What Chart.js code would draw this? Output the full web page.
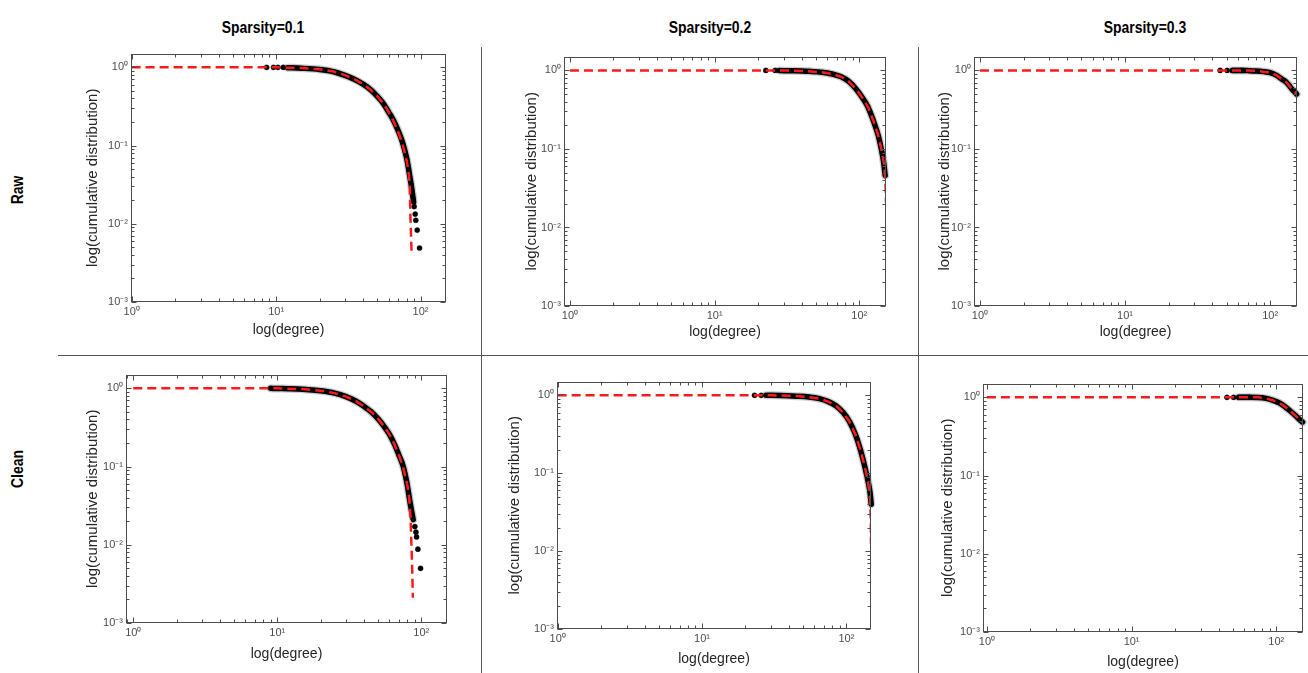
<!DOCTYPE html>
<html>
<head>
<meta charset="utf-8">
<script src="https://cdn.jsdelivr.net/npm/chart.js@4.4.1/dist/chart.umd.min.js"></script>
<style>
  html, body { margin: 0; padding: 0; background: #fff; }
  body { width: 1308px; height: 673px; position: relative; overflow: hidden; }
  canvas { position: absolute; }
  .hdr, .row {
    position: absolute;
    font-family: 'Liberation Sans', sans-serif;
    font-weight: bold; font-size: 16px; color: #000; white-space: nowrap;
  }
  .hdr { transform: translate(-50%, -50%) scaleX(0.87); }
  .row { transform: translate(-50%, -50%) rotate(-90deg) scaleX(0.87); }
  .vl { position: absolute; width: 1px; background: #555; }
  .hl { position: absolute; height: 1px; background: #555; }
</style>
</head>
<body>
<script>
// titres
const colTitles = ['Sparsity=0.1', 'Sparsity=0.2', 'Sparsity=0.3'];
const rowTitles = ['Raw', 'Clean'];
const xTitle = 'log(degree)';
const yTitle = 'log(cumulative distribution)';

// ticks (log)
const xTickValues = [1, 10, 100];
const xTickLabels = ['10⁰', '10¹', '10²'];
const yTickValues = [0.001, 0.01, 0.1, 1];
const yTickLabels = ['10⁻³', '10⁻²', '10⁻¹', '10⁰'];

// [degree, cumulative distribution]
const raw01Curve = [[12, 0.99], [15, 0.975], [20, 0.94], [25, 0.88], [30, 0.79], [35, 0.70], [40, 0.61], [45, 0.52], [50, 0.43], [55, 0.35], [60, 0.27], [65, 0.21], [70, 0.155], [75, 0.11], [80, 0.07], [83, 0.048], [86, 0.032], [88, 0.024], [89.5, 0.019]];
const raw01Dots = [[8.6, 1], [9.6, 1], [10.3, 1], [11.2, 1], [90.3, 0.0166], [91.8, 0.0133], [92.7, 0.0111], [94.8, 0.0083], [98.4, 0.0049]];
const raw01Fit = [[1, 1], [10, 1], [15, 0.98], [20, 0.945], [25, 0.885], [30, 0.795], [35, 0.705], [40, 0.61], [45, 0.52], [50, 0.43], [55, 0.35], [60, 0.27], [65, 0.205], [70, 0.15], [75, 0.105], [80, 0.065], [82.5, 0.047], [84.2, 0.032], [85.1, 0.012], [86.7, 0.0042]];

const raw02Curve = [[28, 0.995], [35, 0.99], [45, 0.975], [55, 0.95], [65, 0.9], [75, 0.83], [85, 0.72], [95, 0.58], [105, 0.45], [115, 0.34], [125, 0.23], [135, 0.15], [142, 0.1], [147, 0.07], [151, 0.046]];
const raw02Dots = [[22.6, 1], [26.2, 1]];
const raw02Fit = [[1, 1], [30, 1], [40, 0.985], [55, 0.95], [65, 0.9], [75, 0.83], [85, 0.72], [95, 0.58], [105, 0.45], [115, 0.34], [125, 0.23], [135, 0.15], [142, 0.1], [148, 0.065], [151, 0.045], [152.3, 0.03], [153, 0.021]];

const raw03Curve = [[55, 1], [65, 0.998], [70, 0.995], [80, 0.985], [90, 0.965], [100, 0.935], [110, 0.87], [120, 0.78], [130, 0.7], [140, 0.59], [152, 0.5]];
const raw03Dots = [[45.2, 1], [50.5, 1], [55, 1], [57.5, 1], [60, 1], [62.5, 1], [65, 1]];
const raw03Fit = [[1, 1], [70, 1], [80, 0.985], [90, 0.965], [100, 0.935], [110, 0.87], [120, 0.78], [130, 0.7], [140, 0.59], [152, 0.5]];

const clean01Curve = [[9, 1], [10, 0.995], [12, 0.99], [15, 0.975], [20, 0.93], [25, 0.87], [30, 0.785], [35, 0.69], [40, 0.59], [45, 0.5], [50, 0.41], [55, 0.33], [60, 0.26], [65, 0.195], [70, 0.14], [75, 0.1], [80, 0.058], [83, 0.038], [86, 0.026], [88, 0.021]];
const clean01Dots = [[90.3, 0.0171], [91.9, 0.0145], [92.8, 0.0126], [94.8, 0.0088], [98.9, 0.005]];
const clean01Fit = [[1, 1], [10, 1], [15, 0.98], [20, 0.935], [25, 0.87], [30, 0.785], [35, 0.69], [40, 0.59], [45, 0.5], [50, 0.41], [55, 0.33], [60, 0.26], [65, 0.195], [70, 0.14], [75, 0.097], [80, 0.058], [82.5, 0.04], [84.3, 0.022], [85.5, 0.01], [86.5, 0.005], [87.5, 0.0021]];

const clean02Curve = [[27.8, 1], [35, 0.995], [45, 0.975], [55, 0.95], [65, 0.905], [75, 0.83], [85, 0.73], [95, 0.6], [105, 0.46], [115, 0.32], [125, 0.2], [135, 0.115], [142, 0.075], [146, 0.055], [148.5, 0.04]];
const clean02Dots = [[23.1, 1], [25.7, 1]];
const clean02Fit = [[1, 1], [30, 1], [45, 0.98], [55, 0.95], [65, 0.905], [75, 0.83], [85, 0.73], [95, 0.6], [105, 0.46], [115, 0.32], [125, 0.2], [135, 0.115], [142, 0.072], [146, 0.046], [147.5, 0.025], [148, 0.0123]];

const clean03Curve = [[55, 1], [65, 1], [75, 0.995], [85, 0.97], [95, 0.915], [105, 0.85], [115, 0.76], [125, 0.67], [135, 0.59], [145, 0.52], [152, 0.483]];
const clean03Dots = [[45.6, 1], [50.7, 1], [55, 1], [57.5, 1], [60, 1], [62.5, 1], [65, 1]];
const clean03Fit = [[1, 1], [75, 1], [85, 0.97], [95, 0.915], [105, 0.85], [115, 0.76], [125, 0.67], [135, 0.59], [145, 0.52], [152, 0.483]];

const yMin = 0.001, yMax = 1.5;

// position des boîtes (px) et bornes en x
const panels = [
  { curve: raw01Curve, dots: raw01Dots, fit: raw01Fit, box: [131, 52, 446, 302], xMin: 0.99, xMax: 150, yT: 93, xT: 331 },
  { curve: raw02Curve, dots: raw02Dots, fit: raw02Fit, box: [564, 55, 886, 306], xMin: 0.91, xMax: 153, yT: 532, xT: 333 },
  { curve: raw03Curve, dots: raw03Dots, fit: raw03Fit, box: [974, 55, 1297, 306], xMin: 0.91, xMax: 153, yT: 945, xT: 333 },
  { curve: clean01Curve, dots: clean01Dots, fit: clean01Fit, box: [126, 373, 447, 623], xMin: 0.89, xMax: 151, yT: 93, xT: 655 },
  { curve: clean02Curve, dots: clean02Dots, fit: clean02Fit, box: [557, 380, 871, 629], xMin: 0.99, xMax: 148, yT: 515, xT: 660 },
  { curve: clean03Curve, dots: clean03Dots, fit: clean03Fit, box: [983, 382, 1303, 632], xMin: 0.94, xMax: 153, yT: 948, xT: 663 },
];

const AXIS_FONT = "'Liberation Sans', Arial, sans-serif";
const X_TITLE_SIZE = 14;
const Y_TITLE_SIZE = 15;
const PAD = 8;

function addDiv(cls, x, y, text, style) {
  const d = document.createElement('div');
  d.className = cls;
  if (text) d.textContent = text;
  Object.assign(d.style, { left: x + 'px', top: y + 'px' }, style || {});
  document.body.appendChild(d);
}

// entêtes, libellés de ligne, séparateurs
[263, 710, 1145].forEach((x, i) => addDiv('hdr', x, 28, colTitles[i]));
[190, 469].forEach((y, i) => addDiv('row', 18, y, rowTitles[i]));
addDiv('vl', 481, 47, '', { height: '626px' });
addDiv('vl', 918, 47, '', { height: '626px' });
addDiv('hl', 58, 355, '', { width: '1250px' });

const toPts = (arr) => arr.map(([x, y]) => ({ x, y }));

// cadre + ticks vers l'intérieur, comme MATLAB
const boxPlugin = {
  id: 'box',
  afterDraw(chart) {
    const { ctx, chartArea: a, scales: { x, y } } = chart;
    const L = Math.round(a.left) + 0.5, R = Math.round(a.right) - 0.5;
    const T = Math.round(a.top) + 0.5, B = Math.round(a.bottom) - 0.5;
    ctx.save();
    ctx.strokeStyle = '#4d4d4d';
    ctx.lineWidth = 1;
    ctx.strokeRect(L, T, R - L, B - T);
    ctx.beginPath();
    const each = (scale, fn) => {
      for (let k = Math.floor(Math.log10(scale.min)); k <= Math.ceil(Math.log10(scale.max)); k++) {
        for (let m = 1; m <= 9; m++) {
          const v = m * Math.pow(10, k);
          if (v < scale.min || v > scale.max) continue;
          fn(Math.round(scale.getPixelForValue(v)) + 0.5, m === 1 ? 5 : 3);
        }
      }
    };
    each(x, (px, len) => {
      ctx.moveTo(px, B); ctx.lineTo(px, B - len);
      ctx.moveTo(px, T); ctx.lineTo(px, T + len);
    });
    each(y, (py, len) => {
      ctx.moveTo(L, py); ctx.lineTo(L + len, py);
      ctx.moveTo(R, py); ctx.lineTo(R - len, py);
    });
    ctx.stroke();
    ctx.restore();
  },
};

function makePanel(p) {
  const [l, t, r, b] = p.box;
  const cLeft = Math.round(p.yT - Y_TITLE_SIZE * 0.6);
  const cTop = t - PAD;
  const cRight = r + PAD;
  const cBottom = Math.round(p.xT + X_TITLE_SIZE * 0.6);
  const yW = l - cLeft;
  const xH = cBottom - b;

  const canvas = document.createElement('canvas');
  canvas.width = cRight - cLeft;
  canvas.height = cBottom - cTop;
  canvas.style.left = cLeft + 'px';
  canvas.style.top = cTop + 'px';
  document.body.appendChild(canvas);

  const tickFont = { family: AXIS_FONT, size: 11 };

  new Chart(canvas, {
    type: 'scatter',
    data: {
      datasets: [
        {
          label: 'fit',
          data: toPts(p.fit),
          showLine: true,
          borderColor: '#ff1a1a',
          borderWidth: 2.5,
          borderDash: [9, 5],
          pointRadius: 0,
          tension: 0,
          order: 0,
        },
        {
          label: 'dots',
          data: toPts(p.dots),
          showLine: false,
          pointRadius: 2.6,
          pointBackgroundColor: '#000',
          pointBorderColor: 'rgba(0,0,0,0.35)',
          pointBorderWidth: 1,
          clip: false,
          order: 1,
        },
        {
          label: 'degree',
          data: toPts(p.curve),
          showLine: true,
          borderColor: '#000',
          borderWidth: 5.5,
          borderCapStyle: 'round',
          pointRadius: 0,
          cubicInterpolationMode: 'monotone',
          clip: false,
          order: 2,
        },
        {
          label: 'halo',
          data: toPts(p.curve),
          showLine: true,
          borderColor: 'rgba(90,90,90,0.3)',
          borderWidth: 8,
          borderCapStyle: 'round',
          pointRadius: 0,
          cubicInterpolationMode: 'monotone',
          clip: false,
          order: 3,
        },
      ],
    },
    options: {
      responsive: false,
      animation: false,
      events: [],
      layout: { padding: { top: PAD, right: PAD, left: 0, bottom: 0 } },
      plugins: { legend: { display: false }, tooltip: { enabled: false } },
      scales: {
        x: {
          type: 'logarithmic',
          position: 'bottom',
          min: p.xMin,
          max: p.xMax,
          grid: { display: false, drawTicks: false },
          border: { display: false },
          ticks: {
            color: '#4d4d4d', font: tickFont, padding: 3,
            maxRotation: 0, autoSkip: false,
            callback: (v, i) => xTickLabels[i],
          },
          afterBuildTicks: (s) => { s.ticks = xTickValues.map((v) => ({ value: v })); },
          afterFit: (s) => { s.height = xH; },
          title: { display: true, text: xTitle, color: '#262626', font: { family: AXIS_FONT, size: X_TITLE_SIZE }, padding: 0 },
        },
        y: {
          type: 'logarithmic',
          position: 'left',
          min: yMin,
          max: yMax,
          grid: { display: false, drawTicks: false },
          border: { display: false },
          ticks: {
            color: '#4d4d4d', font: tickFont, padding: 3, autoSkip: false,
            callback: (v, i) => yTickLabels[i],
          },
          afterBuildTicks: (s) => { s.ticks = yTickValues.map((v) => ({ value: v })); },
          afterFit: (s) => { s.width = yW; },
          title: { display: true, text: yTitle, color: '#262626', font: { family: AXIS_FONT, size: Y_TITLE_SIZE }, padding: 0 },
        },
      },
    },
    plugins: [boxPlugin],
  });
}

panels.forEach(makePanel);
</script>
</body>
</html>
